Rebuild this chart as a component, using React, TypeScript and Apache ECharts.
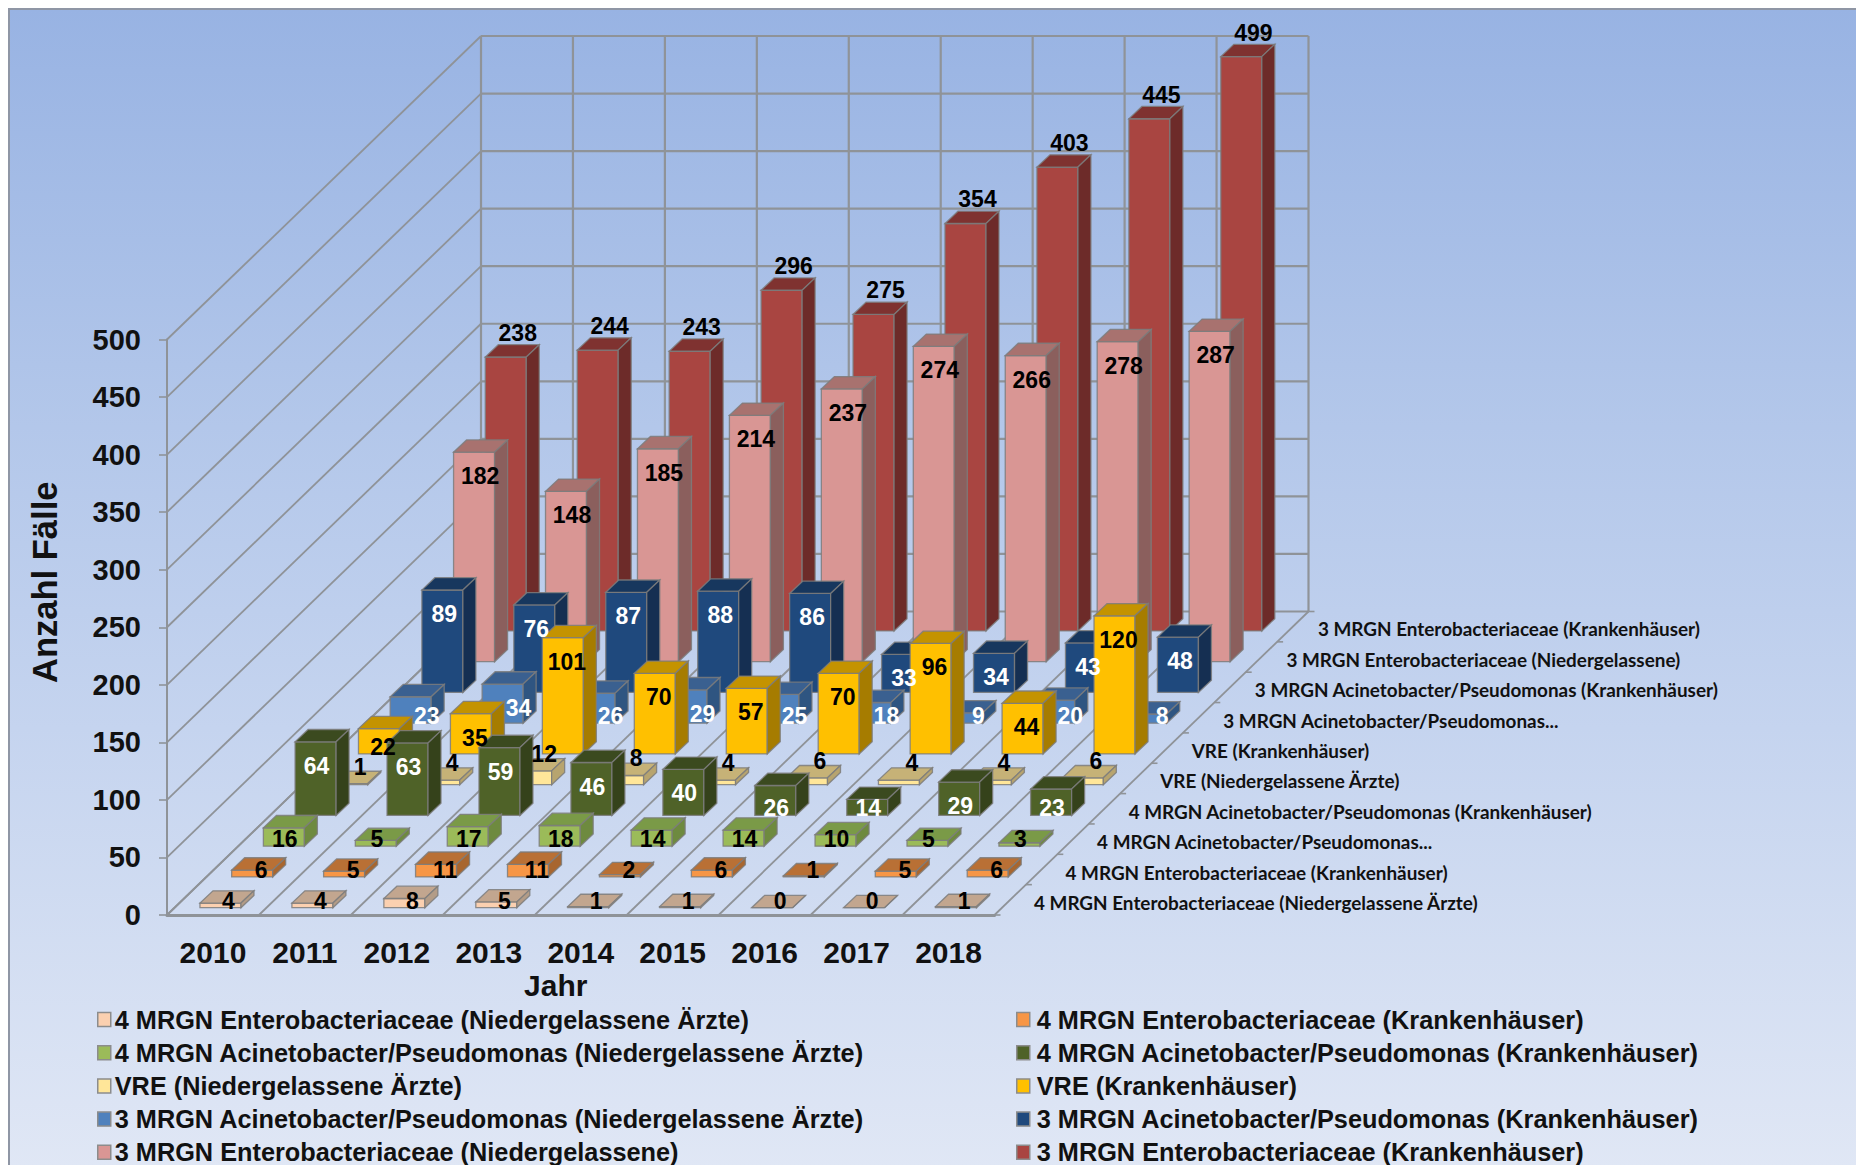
import React, { useEffect, useRef } from "react";
import * as echarts from "echarts";

const years = ["2010", "2011", "2012", "2013", "2014", "2015", "2016", "2017", "2018"];
const yTicks = [0, 50, 100, 150, 200, 250, 300, 350, 400, 450, 500];

const seriesNames = [
  "4 MRGN Enterobacteriaceae (Niedergelassene Ärzte)",
  "4 MRGN Enterobacteriaceae (Krankenhäuser)",
  "4 MRGN Acinetobacter/Pseudomonas (Niedergelassene Ärzte)",
  "4 MRGN Acinetobacter/Pseudomonas (Krankenhäuser)",
  "VRE (Niedergelassene Ärzte)",
  "VRE (Krankenhäuser)",
  "3 MRGN Acinetobacter/Pseudomonas (Niedergelassene Ärzte)",
  "3 MRGN Acinetobacter/Pseudomonas (Krankenhäuser)",
  "3 MRGN Enterobacteriaceae (Niedergelassene)",
  "3 MRGN Enterobacteriaceae (Krankenhäuser)",
];
const depthLabels = [
  "4 MRGN Enterobacteriaceae (Niedergelassene Ärzte)",
  "4 MRGN Enterobacteriaceae (Krankenhäuser)",
  "4 MRGN Acinetobacter/Pseudomonas...",
  "4 MRGN Acinetobacter/Pseudomonas (Krankenhäuser)",
  "VRE (Niedergelassene Ärzte)",
  "VRE (Krankenhäuser)",
  "3 MRGN Acinetobacter/Pseudomonas...",
  "3 MRGN Acinetobacter/Pseudomonas (Krankenhäuser)",
  "3 MRGN Enterobacteriaceae (Niedergelassene)",
  "3 MRGN Enterobacteriaceae (Krankenhäuser)",
];

const ent4Praxis = [4, 4, 8, 5, 1, 1, 0, 0, 1];
const ent4Klinik = [6, 5, 11, 11, 2, 6, 1, 5, 6];
const acin4Praxis = [16, 5, 17, 18, 14, 14, 10, 5, 3];
const acin4Klinik = [64, 63, 59, 46, 40, 26, 14, 29, 23];
const vrePraxis = [1, 4, 12, 8, 4, 6, 4, 4, 6];
const vreKlinik = [22, 35, 101, 70, 57, 70, 96, 44, 120];
const acin3Praxis = [23, 34, 26, 29, 25, 18, 9, 20, 8];
const acin3Klinik = [89, 76, 87, 88, 86, 33, 34, 43, 48];
const ent3Praxis = [182, 148, 185, 214, 237, 274, 266, 278, 287];
const ent3Klinik = [238, 244, 243, 296, 275, 354, 403, 445, 499];
const allValues = [
  ent4Praxis, ent4Klinik, acin4Praxis, acin4Klinik, vrePraxis,
  vreKlinik, acin3Praxis, acin3Klinik, ent3Praxis, ent3Klinik,
];

// Face colours per series: front, top, side
const frontColors = ["#fbd0b0", "#f79646", "#9bbb59", "#4f6228", "#ffe699", "#ffc000", "#4f81bd", "#1f497d", "#d99694", "#a94541"];
const topColors = ["#c2a68f", "#b97035", "#7a9a47", "#3b4a1f", "#c6b277", "#c49300", "#3a6090", "#17375e", "#a8726f", "#7f3230"];
const sideColors = ["#b39c87", "#a8662f", "#6e8a3f", "#35421b", "#b7a46f", "#a67c00", "#2f5581", "#152f52", "#8b5f5d", "#6d2b29"];
const labelColors = ["#000", "#000", "#000", "#fff", "#000", "#000", "#fff", "#fff", "#000", "#000"];
const labelDx = [8, 9, 1, 1, 13, 4, 16, 2, 6, 12];

const FONT = "Liberation Sans";
const GRID = { left: 167, top: 339.5, width: 827.5, height: 575.5 };
const WALL_DX = 314;
const WALL_DY = 303.5;
const GRIDLINE = "#8f9398";
// bar placement in the oblique projection
const Z0X = 7.5, Z0Y = 7.3, ZSX = 31.7, ZSY = 30.75, BAR_W = 41, BAR_DX = 13, BAR_DY = 12.3;

function barBase(api: any, cat: number, val: number, s: number) {
  const p = api.coord([cat, val]);
  return [p[0] + Z0X + ZSX * s, p[1] - Z0Y - ZSY * s];
}

function bar3d(s: number) {
  return (_: any, api: any) => {
    const cat = api.value(0);
    const val = api.value(1);
    const t = barBase(api, cat, val, s);
    const b = barBase(api, cat, 0, s);
    const l = t[0] - BAR_W / 2, r = t[0] + BAR_W / 2;
    const stroke = "rgba(125,125,125,0.85)";
    const face = (pts: number[][], fill: string) => ({
      type: "polygon",
      shape: { points: pts },
      style: { fill, stroke, lineWidth: 1.3 },
    });
    return {
      type: "group",
      children: [
        face([[l, b[1]], [r, b[1]], [r, t[1]], [l, t[1]]], frontColors[s]),
        face([[l, t[1]], [r, t[1]], [r + BAR_DX, t[1] - BAR_DY], [l + BAR_DX, t[1] - BAR_DY]], topColors[s]),
        face([[r, b[1]], [r + BAR_DX, b[1] - BAR_DY], [r + BAR_DX, t[1] - BAR_DY], [r, t[1]]], sideColors[s]),
      ],
    };
  };
}

function frameItem(_: any, api: any) {
  const band = api.size([1, 0])[0];
  const line = (x1: number, y1: number, x2: number, y2: number, w = 1.8) => ({
    type: "line",
    shape: { x1, y1, x2, y2 },
    style: { stroke: GRIDLINE, lineWidth: w },
  });
  const o = api.coord([0, 0]);
  const x0 = o[0] - band / 2;
  const children: any[] = [];
  yTicks.forEach((v) => {
    const p = api.coord([0, v]);
    children.push(line(x0, p[1], x0 + WALL_DX, p[1] - WALL_DY));
    children.push(line(x0 + WALL_DX, p[1] - WALL_DY, x0 + WALL_DX + band * years.length, p[1] - WALL_DY, 2.2));
  });
  const top = api.coord([0, yTicks[yTicks.length - 1]])[1];
  for (let i = 0; i <= years.length; i++) {
    const x = x0 + band * i;
    children.push(line(x, o[1], x + WALL_DX, o[1] - WALL_DY));
    children.push(line(x + WALL_DX, o[1] - WALL_DY, x + WALL_DX, top - WALL_DY, 2.2));
  }
  const xr = x0 + band * years.length;
  depthLabels.forEach((name, s) => {
    const tx = xr + (WALL_DX / depthLabels.length) * s;
    const ty = o[1] - (WALL_DY / depthLabels.length) * s;
    children.push(line(tx, ty, tx + 6, ty, 1.6));
    children.push({
      type: "text",
      style: {
        x: xr + 39.5 + 31.55 * s,
        y: o[1] - 12.5 - 30.4 * s,
        text: name,
        fill: "#111",
        font: 'bold 18.9px "Lato"',
        textVerticalAlign: "middle",
        textAlign: "left",
      },
    });
  });
  children.push(line(xr + WALL_DX, o[1] - WALL_DY, xr + WALL_DX + 6, o[1] - WALL_DY, 1.6));
  return { type: "group", children };
}

function labelItem(_: any, api: any) {
  const cat = api.value(0);
  const val = api.value(1);
  const s = api.value(2);
  const t = barBase(api, cat, val, s);
  const b = barBase(api, cat, 0, s);
  const h = b[1] - t[1];
  let dy = Math.max(-8, Math.min(24, h - 7));
  if (s === 4) dy = -17;
  if (s === 9) dy = -24;
  return {
    type: "text",
    style: {
      x: t[0] + labelDx[s],
      y: t[1] + dy,
      text: String(val),
      fill: labelColors[s],
      font: `bold 23px "${FONT}"`,
      textAlign: "center",
      textVerticalAlign: "middle",
    },
  };
}

export default function App() {
  const ref = useRef<HTMLDivElement>(null);
  useEffect(() => {
    const chart = echarts.init(ref.current!, undefined, { renderer: "svg" });
    const legendItem = (i: number) => ({ name: seriesNames[i], itemStyle: { color: frontColors[i] } });
    const legendBase = {
      orient: "vertical",
      top: 1005,
      height: 200,
      icon: "rect",
      itemWidth: 13,
      itemHeight: 14,
      itemGap: 4.2,
      selectedMode: false,
      padding: 0,
      itemStyle: { borderColor: "#8c8c8c", borderWidth: 1.5 },
    };
    const legendText = { fontFamily: FONT, fontWeight: "bold", fontSize: 25.3, color: "#111", lineHeight: 25 };
    const barSeries = allValues
      .map((vals, s) => ({
        type: "custom",
        name: seriesNames[s],
        z: 2,
        itemStyle: { color: frontColors[s] },
        renderItem: bar3d(s),
        encode: { x: 0, y: 1 },
        data: vals.map((v, i) => [i, v]),
      }))
      .reverse();
    const labelData: number[][] = [];
    allValues.forEach((vals, s) => vals.forEach((v, i) => labelData.push([i, v, s])));
    chart.setOption({
      animation: false,
      backgroundColor: "#ffffff",
      tooltip: { show: false },
      graphic: [
        {
          type: "rect",
          z: -10,
          shape: { x: 9, y: 9, width: 1850, height: 1160 },
          style: {
            fill: new echarts.graphic.LinearGradient(0, 0, 0, 1, [
              { offset: 0, color: "#98b3e3" },
              { offset: 0.36, color: "#b3c7ea" },
              { offset: 0.62, color: "#c5d4ef" },
              { offset: 1, color: "#e0e7f5" },
            ]),
            stroke: "#8f96a5",
            lineWidth: 2,
          },
        },
      ],
      legend: [
        { ...legendBase, left: 97, textStyle: { ...legendText, padding: [4, 0, 0, -1] }, data: [0, 2, 4, 6, 8].map(legendItem) },
        { ...legendBase, left: 1016, textStyle: { ...legendText, padding: [4, 0, 0, 2] }, data: [1, 3, 5, 7, 9].map(legendItem) },
      ],
      grid: { ...GRID, containLabel: false },
      xAxis: {
        type: "category",
        data: years,
        boundaryGap: true,
        name: "Jahr",
        nameLocation: "middle",
        nameGap: 55,
        nameTextStyle: { fontFamily: FONT, fontWeight: "bold", fontSize: 30, color: "#111", padding: [0, 50, 0, 0] },
        axisLine: { lineStyle: { color: GRIDLINE, width: 3 } },
        axisTick: { length: 8, lineStyle: { color: GRIDLINE, width: 1.6 } },
        axisLabel: { fontFamily: FONT, fontWeight: "bold", fontSize: 30, color: "#111", margin: 22 },
      },
      yAxis: {
        type: "value",
        min: 0,
        max: 500,
        interval: 50,
        name: "Anzahl Fälle",
        nameLocation: "middle",
        nameGap: 105,
        nameTextStyle: { fontFamily: FONT, fontWeight: "bold", fontSize: 34.5, color: "#111", padding: [0, 0, 0, 90] },
        axisLine: { show: true, lineStyle: { color: GRIDLINE, width: 2 } },
        axisTick: { show: true, length: 8, lineStyle: { color: GRIDLINE, width: 1.6 } },
        axisLabel: { fontFamily: FONT, fontWeight: "bold", fontSize: 29, color: "#111", margin: 26, padding: [3, 0, 0, 0] },
        splitLine: { show: false },
      },
      series: [
        { type: "custom", name: "frame", z: 1, silent: true, renderItem: frameItem, encode: { x: 0, y: 1 }, data: [[0, 0]] },
        ...barSeries,
        { type: "custom", name: "labels", z: 6, silent: true, renderItem: labelItem, encode: { x: 0, y: 1 }, data: labelData },
      ],
    });
    return () => chart.dispose();
  }, []);
  return (
    <div style={{ position: "fixed", left: 0, top: 0, width: 1856, height: 1165 }}>
      <div ref={ref} style={{ width: 1856, height: 1165 }} />
    </div>
  );
}
